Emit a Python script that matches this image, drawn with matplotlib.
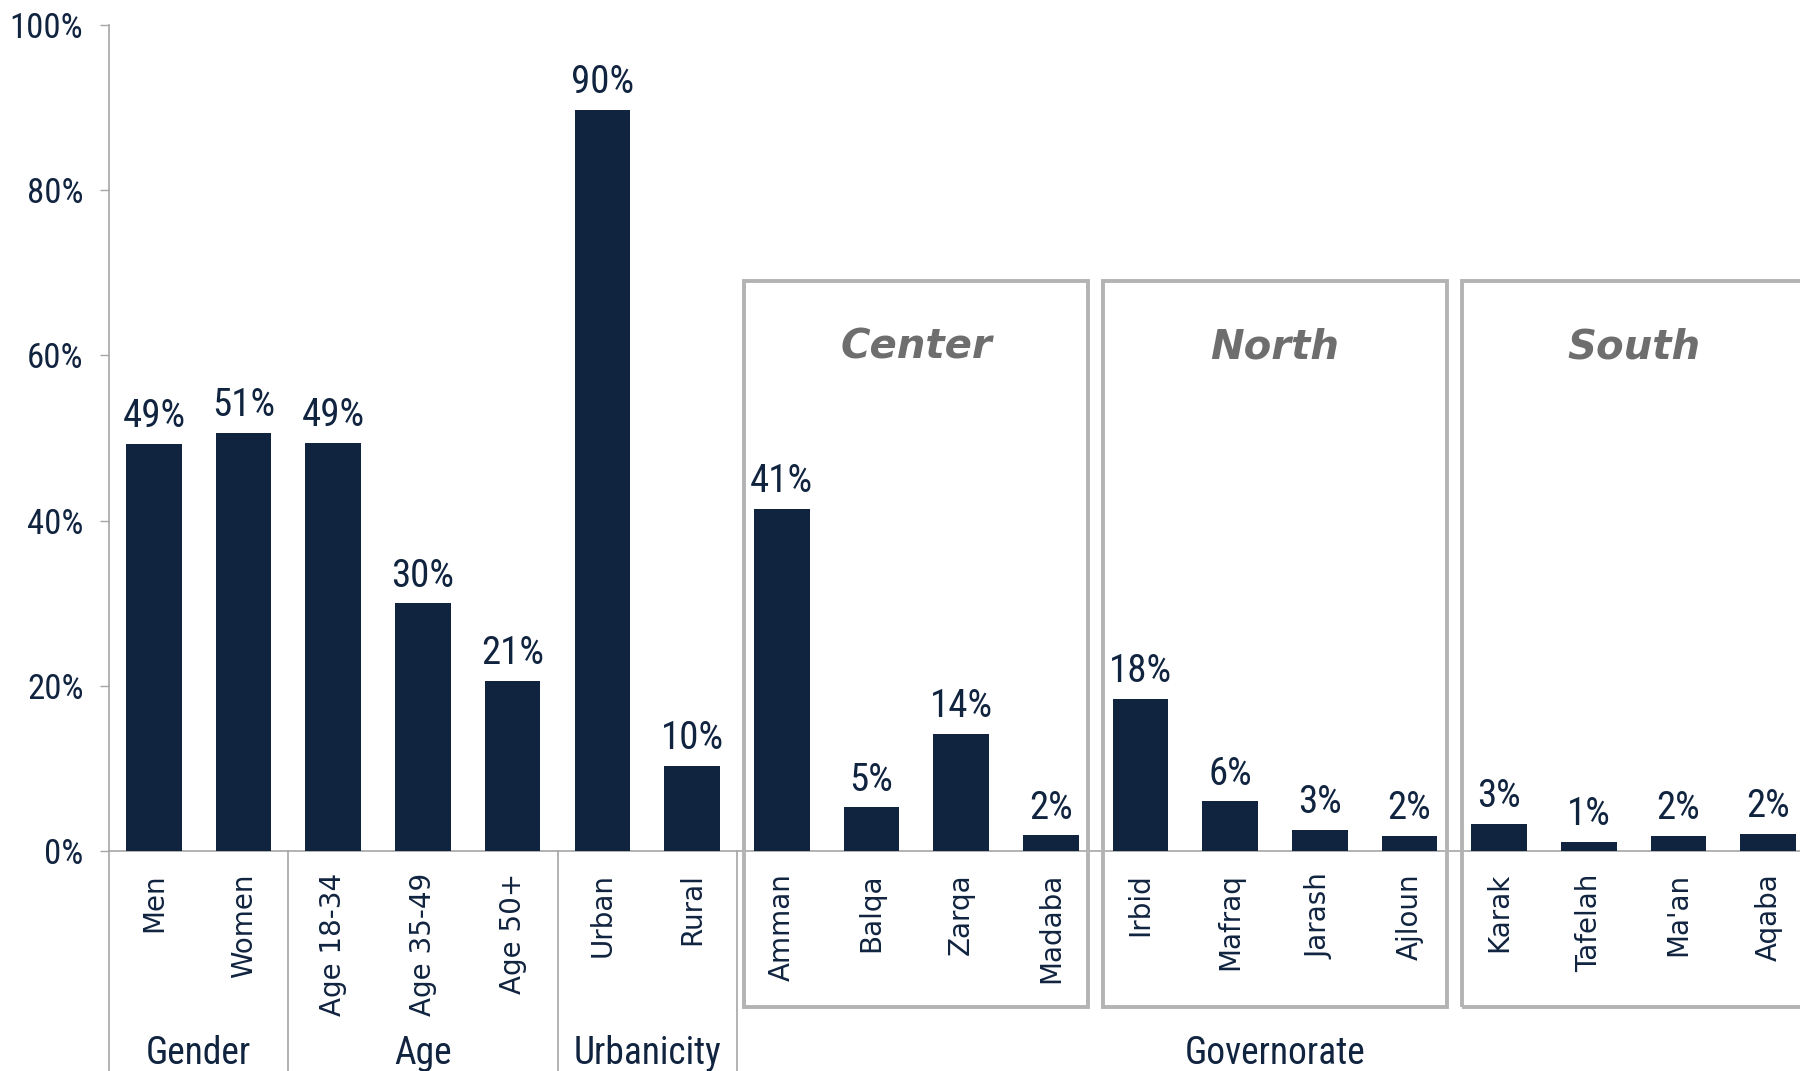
import matplotlib.pyplot as plt
from matplotlib.patches import Rectangle
from matplotlib.transforms import blended_transform_factory

categories = ['Men', 'Women', 'Age 18-34', 'Age 35-49', 'Age 50+', 'Urban', 'Rural',
              'Amman', 'Balqa', 'Zarqa', 'Madaba', 'Irbid', 'Mafraq', 'Jarash', 'Ajloun',
              'Karak', 'Tafelah', "Ma'an", 'Aqaba']
values = [49.3, 50.6, 49.4, 30.0, 20.6, 89.7, 10.3,
          41.4, 5.3, 14.2, 1.9, 18.4, 6.0, 2.6, 1.8,
          3.3, 1.1, 1.8, 2.1]
groups = ['Gender', 'Age', 'Urbanicity', 'Governorate']
group_sizes = [2, 3, 2, 12]
regions = ['Center', 'North', 'South']
region_sizes = [4, 4, 4]

navy = '#10233f'
grey = '#a6a6a6'
narrow = ['Roboto Condensed', 'DejaVu Sans']

fig = plt.figure(figsize=(18, 10.71), dpi=100)
ax = fig.add_axes([0.0606, 0.2054, 0.9467, 0.7713])

x = list(range(len(categories)))
bars = ax.bar(x, values, width=0.62, color=navy, zorder=3)
for xi, v in zip(x, values):
    ax.annotate(f'{round(v)}%', (xi, v), xytext=(0, 12), textcoords='offset points',
                ha='center', va='baseline', fontsize=28, color=navy, family=narrow,
                fontstretch='condensed')

ax.set_xlim(-0.5, 18.5)
ax.set_ylim(0, 100)
ax.set_yticks([0, 20, 40, 60, 80, 100])
ax.set_yticklabels([f'{t}%' for t in [0, 20, 40, 60, 80, 100]], family=narrow,
                   fontstretch='condensed')
ax.tick_params(axis='y', labelsize=25, labelcolor=navy, color=grey, length=6.5, width=1, pad=12)
ax.set_xticks(x)
ax.set_xticklabels(categories, rotation=90, fontsize=20, color=navy, va='top', ha='center')
ax.tick_params(axis='x', length=0, pad=16)

for side in ['top', 'right']:
    ax.spines[side].set_visible(False)
for side in ['left', 'bottom']:
    ax.spines[side].set_color(grey)
    ax.spines[side].set_linewidth(1.2)

# group separators and group names below the axis
trans = blended_transform_factory(ax.transData, fig.transFigure)
bottom = ax.get_position().y0
start = 0
for name, n in zip(groups, group_sizes):
    ax.plot([start - 0.5, start - 0.5], [0, bottom], transform=trans, color=grey,
            lw=1.2, clip_on=False)
    ax.text(start + (n - 1) / 2, 0.016, name, transform=trans, ha='center', va='center',
            fontsize=27, color=navy, family=narrow, fontstretch='condensed')
    start += n

# governorate region boxes
start = 7
for name, n in zip(regions, region_sizes):
    ax.add_patch(Rectangle((start - 0.42, -18.9), n - 1 + 0.84, 69 + 18.9, fill=False,
                           edgecolor='#b3b3b3', lw=2.8, clip_on=False, zorder=4))
    ax.text(start + (n - 1) / 2, 61, name, ha='center', va='center', fontsize=29,
            fontweight='bold', fontstyle='italic', color='#6e6e6e')
    start += n

fig.savefig('out.png', dpi=100)
